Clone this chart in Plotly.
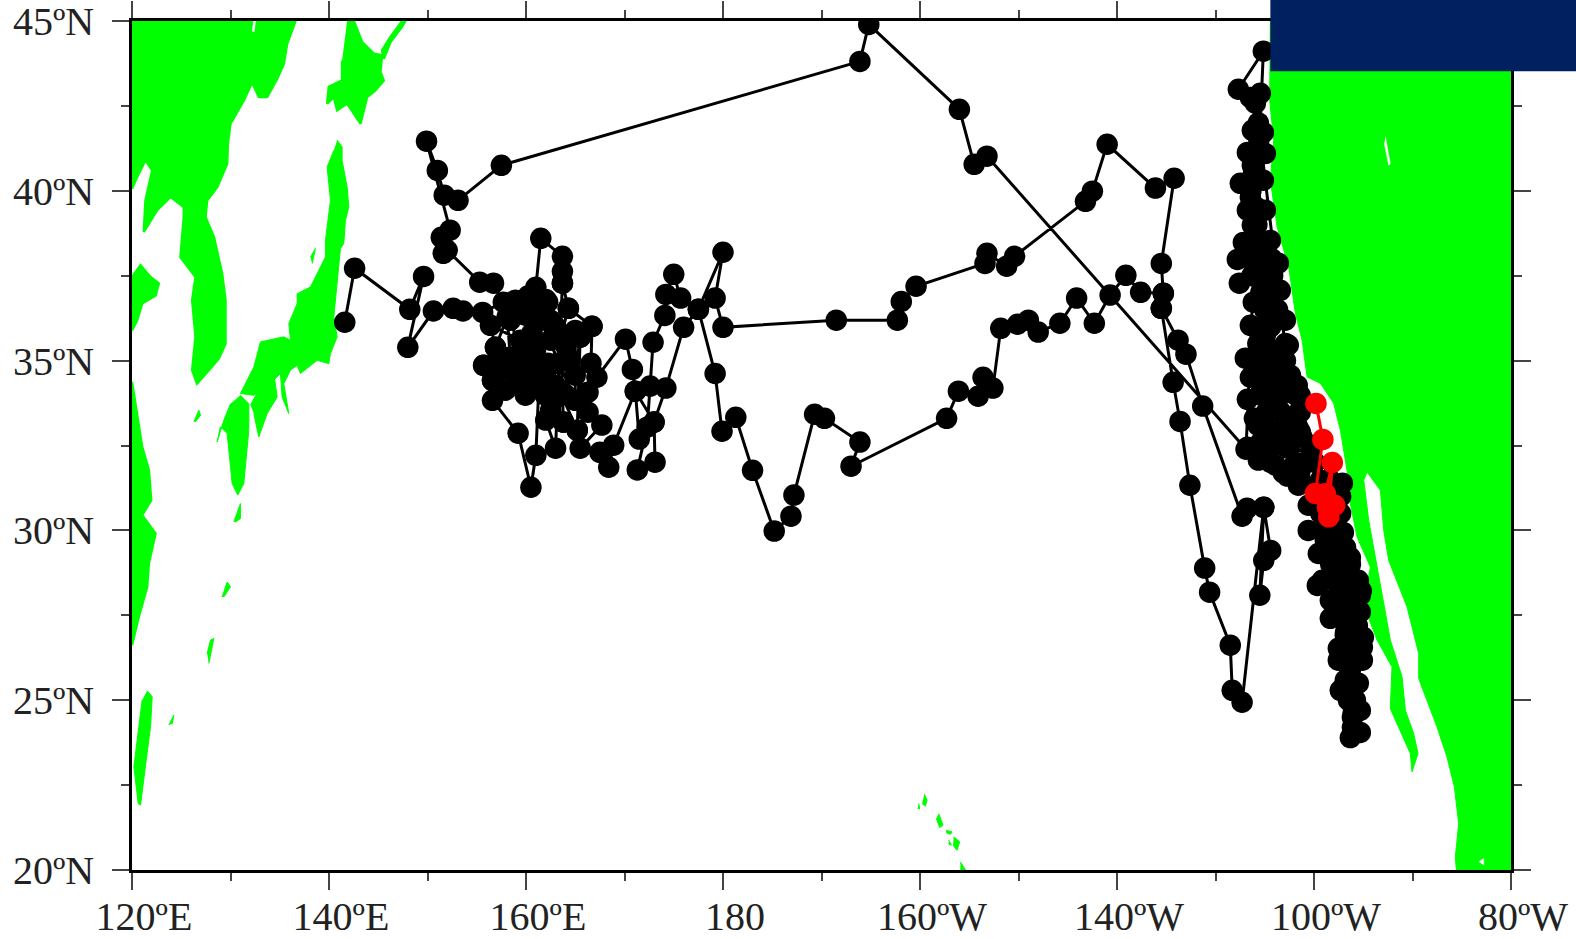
import plotly.graph_objects as go

# Axis labels (the source labels skip 120W: equal spacing on a nominal 120..260 scale)
x_tick_vals = [120, 140, 160, 180, 200, 220, 240, 260]
x_tick_text = ["120ºE", "140ºE", "160ºE", "180", "160ºW", "140ºW", "100ºW", "80ºW"]
y_tick_vals = [20, 25, 30, 35, 40, 45]
y_tick_text = ["20ºN", "25ºN", "30ºN", "35ºN", "40ºN", "45ºN"]

# Land outlines (nominal lon, lat)
asia_lon = [120,132.2,132.03,132.54,132.7,136.6,135.75,135.41,134.74,133.72,132.87,132.2,131.35,130,129.73,129.66,128.65,127.63,127.46,128.31,129.15,129.49,129.49,128.81,127.8,126.6,126.11,126.45,126.11,126.45,124.92,125.26,125.26,123.91,122.55,121.2,121.37,122.05,121.37,120.52,120]
asia_lat = [45,45,44.68,44.63,45,45,44.33,43.74,43.3,42.76,42.76,43.2,42.66,41.98,41.39,40.8,40.11,39.72,39.23,38.64,37.56,36.78,35.5,35.06,34.72,34.32,34.72,35.7,36.78,37.46,38.05,39.23,39.52,39.82,39.43,38.79,39.72,40.6,40.9,40.41,40.06]
hokkaido_lon = [141.84,142.52,143.36,144.55,145.39,145.22,145.56,144.71,143.87,143.2,141.84,140.83,140.49,139.81,139.98,141.33,141.33]
hokkaido_lat = [45,45,44.38,44.04,43.99,43.5,43.25,42.96,42.76,41.98,42.57,42.37,42.76,42.57,43.06,43.25,43.84]
kuril_lon = [147.77,147.26,146.24,145.56,145.39,146.24,147.43]
kuril_lat = [45,44.77,44.38,43.89,44.14,44.53,45]
honshu_lon = [140.83,141.33,141.33,141.84,142.01,141.67,141.5,141.16,140.49,140.83,140.15,139.98,138.8,137.1,136.77,136.09,135.41,135.92,135.24,135.07,133.72,132.37,131.01,132.37,133.04,135.41,136.09,135.92,136.77,136.77,138.12,139.64,139.64,139.98,140.15,139.81,140.49]
honshu_lat = [41.49,41.29,40.9,40.11,39.52,39.13,38.45,38.3,36.29,35.7,35.21,34.91,35.01,34.62,34.86,34.72,34.32,33.44,33.93,34.62,34.23,33.98,34.03,34.81,35.55,35.7,35.6,36.09,36.68,36.97,37.17,38.05,38.54,39.33,39.72,40.7,41.19]
kyushu_lon = [131.01,131.86,131.86,131.52,131.35,130.74,130.17,130.0,129.66,128.98,128.65,129.32,130.0]
kyushu_lat = [33.98,33.73,32.95,31.77,31.38,31.04,31.38,31.87,32.85,33.05,32.61,33.24,33.73]
shikoku_lon = [132.03,133.04,134.4,134.74,133.72,132.87,132.37]
shikoku_lat = [33.69,34.23,34.62,33.93,33.44,32.75,33.44]
shandong_lon = [120,120.86,121.88,122.72,122.39,121.03,120.52,120]
shandong_lat = [37.46,37.81,37.46,37.27,36.92,36.68,36.19,35.89]
china_lon = [120,120.52,121.03,121.71,121.95,121.03,121.88,122.39,121.71,121.54,120.69,120.19,120]
china_lat = [34.37,33.34,32.46,31.77,30.89,30.45,30.1,29.91,29.03,28.34,27.46,26.87,26.62]
taiwan_lon = [121.54,122.05,121.88,121.37,120.86,120.63,120.19,120.69,121.03]
taiwan_lat = [25.28,25.1,24.22,23.14,21.91,21.96,23.04,24.22,25.0]
ryukyu1_lon = [129.15,129.66,130.0,129.32]
ryukyu1_lat = [28.04,28.48,28.34,28.04]
ryukyu2_lon = [127.8,128.31,127.97,127.63]
ryukyu2_lat = [26.08,26.82,26.77,26.37]
sakishima_lon = [123.74,124.25,124.08]
sakishima_lat = [24.27,24.56,24.31]
tanega_lon = [130.34,131.01,131.01,130.51]
tanega_lat = [30.25,30.79,30.35,30.25]
jeju_lon = [126.28,126.79,126.96,126.45]
jeju_lat = [33.2,33.54,33.39,33.2]
sado_lon = [138.29,138.63,138.12]
sado_lat = [37.86,38.3,38.05]
kauai_lon = [200.45,200.72,200.55,200.21]
kauai_lat = [22.23,22.06,21.88,21.96]
niihau_lon = [199.87,199.97,199.77]
niihau_lat = [21.96,21.81,21.81]
oahu_lon = [201.9,202.34,202.0,201.66]
oahu_lat = [21.66,21.32,21.25,21.52]
molokai_lon = [202.65,203.26,203.09,202.65]
molokai_lat = [21.17,21.12,21.05,21.1]
lanai_lon = [202.92,203.19,202.92]
lanai_lat = [20.88,20.73,20.76]
maui_lon = [203.42,204.03,203.76,203.36]
maui_lat = [20.98,20.83,20.58,20.73]
bigisland_lon = [204.1,204.61,204.1]
bigisland_lat = [20.24,20.0,20.0]
america_lon = [235.57,235.57,235.5,235.91,235.57,236.25,237.43,238.11,238.79,239.3,240.65,242.0,242.68,243.35,243.69,244.37,245.72,245.05,246.4,247.92,247.75,249.78,249.95,250.56,250.12,249.28,248.94,247.75,246.4,245.55,245.05,245.38,246.74,247.08,247.58,249.44,250.63,250.63,252.49,253.5,254.25,254.69,254.35,254.45,260,260]
america_lat = [45,43.55,42.67,41.49,40.31,38.94,37.76,36.39,35.6,34.52,34.33,33.74,32.95,31.77,30.79,29.81,28.92,27.8,26.77,25.98,24.75,23.43,22.89,23.43,24.02,24.7,25.69,26.77,28.92,30.3,31.48,31.72,31.18,30.0,29.12,27.75,26.37,25.64,24.21,23.33,22.45,21.37,20.39,20.0,20.0,45]
edge_land = [(asia_lon, asia_lat), (hokkaido_lon, hokkaido_lat), (kuril_lon, kuril_lat),
             (shandong_lon, shandong_lat), (china_lon, china_lat)]
inner_land = [(honshu_lon, honshu_lat), (kyushu_lon, kyushu_lat), (shikoku_lon, shikoku_lat),
              (taiwan_lon, taiwan_lat), (ryukyu1_lon, ryukyu1_lat), (ryukyu2_lon, ryukyu2_lat),
              (sakishima_lon, sakishima_lat), (tanega_lon, tanega_lat), (jeju_lon, jeju_lat),
              (sado_lon, sado_lat), (kauai_lon, kauai_lat), (niihau_lon, niihau_lat),
              (oahu_lon, oahu_lat), (molokai_lon, molokai_lat), (lanai_lon, lanai_lat),
              (maui_lon, maui_lat), (bigisland_lon, bigisland_lat), (america_lon, america_lat)]

# Small lakes inside the land
lake1_lon = [247.25,247.75,247.58,247.14]
lake1_lat = [41.59,40.8,40.75,41.39]
lake2_lon = [256.72,257.23,257.23]
lake2_lat = [20.24,20.34,20.14]
lake_outlines = [(lake1_lon, lake1_lat), (lake2_lon, lake2_lat)]

# Float track, black part: eastbound leg, return leg, upper loop, coastal column
leg1_lon = [141.6,142.6,148.2,149.6,148.0,150.6,152.6,153.6,155.6,157.7,158.9,158.1,156.9,155.7,156.6,158.4,159.7,159.4,161.3,160.6,161.0,161.5,163.7,163.7,163.7,164.3,163.5,163.8,165.2,165.5,166.7,166.6,167.2,170.1,170.8,171.1,173.0,174.2,176.0,177.5,180.0,179.2,180.0]
leg1_lat = [36.13,37.72,36.51,37.48,35.39,36.46,36.54,36.46,36.42,36.72,36.78,36.28,35.39,34.86,34.42,35.1,35.01,34.34,34.22,35.81,37.16,38.6,38.07,37.63,37.28,36.54,35.66,33.19,32.95,35.69,36.01,34.92,34.51,35.63,34.74,34.1,33.19,34.19,35.98,36.51,38.19,36.84,35.98]
leg2_lon = [191.5,197.7,198.1,199.6,206.6,206.8,208.8,209.6,216.8,217.5,219.0,223.9,225.8,224.5,224.7,224.5,226.2,227.0,228.7,232.7,233.2,234.9,234.5,234.9,235.6,234.9,232.7,231.7,231.5,229.4,228.9,227.4,226.4,225.7,224.5,224.7]
leg2_lat = [36.19,36.19,36.74,37.19,37.86,38.16,37.78,38.07,39.69,39.99,41.37,40.08,40.37,37.86,36.98,36.54,35.6,35.19,33.66,30.42,30.65,30.68,28.09,29.12,29.41,30.68,24.94,25.29,26.62,28.18,28.89,31.33,33.21,34.36,36.54,36.98]
leg3_lon = [222.4,220.9,219.3,217.7,215.9,214.2,212.0,211.0,209.9,208.2,207.4,206.4,205.9,203.9,202.7,193.0,193.9,190.3,189.3,187.2,186.9,185.2,183.0,181.3,179.9,179.2,177.5]
leg3_lat = [37.01,37.51,36.93,36.1,36.84,36.1,35.84,36.19,36.07,35.95,34.19,34.51,33.95,34.1,33.3,31.89,32.6,33.3,33.42,31.04,30.42,29.98,31.77,33.33,32.92,34.62,36.51]
leg4_lon = [175.7,175.0,174.2,174.1,172.9,172.6,172.3,171.3,173.1,173.0,171.5,171.1,168.9,168.4,167.5,165.5,167.7,166.3,166.3,165.0,165.5,166.7,164.3,163.7,163.0,162.0,162.5,163.8,165.2,162.2,163.2,163.5,162.2,160.8,159.4,158.1,158.4,159.7,159.4,161.3,161.0,160.5,159.2,156.6,156.6,155.7,157.4,156.9]
leg4_lat = [36.84,37.54,36.95,36.33,35.54,34.25,33.04,31.78,32.01,33.19,32.69,34.1,32.51,31.86,32.3,32.42,33.1,33.48,34.07,34.57,35.69,36.01,36.54,37.28,32.42,33.25,33.54,33.19,32.95,34.92,34.92,35.66,36.72,36.48,36.57,36.28,35.1,35.01,34.34,34.22,32.21,31.27,32.86,33.83,34.42,34.86,35.1,35.39]
cluster_lon = [156.39,159.44,160.96,162.48,157.41,158.93,161.97,157.91,159.94,161.97,162.99,164.0,165.0,165.0,161.48,162.48,159.94,158.41,160.5,163.0,164.0,164.3,163.0,160.2,162.0,161.0,160.2]
cluster_lat = [36.04,35.6,35.31,35.6,34.72,34.57,34.57,34.13,33.98,33.98,34.27,35.45,35.89,33.83,36.19,36.19,36.34,36.19,34.3,33.9,34.0,35.0,36.0,36.9,36.8,34.9,34.9]
leg4b_lon = [156.7,155.3]
leg4b_lat = [37.28,37.31]
leg5_lon = [152.0,151.6,151.4,152.3,149.9,151.0,151.7,153.1,157.5,193.9,194.8,204.0,205.5,206.8,233.1]
leg5_lat = [38.25,38.16,38.63,38.84,41.46,40.6,39.87,39.72,40.75,43.81,44.9,42.4,40.78,41.02,32.39]
column_north_lon = [234.86,232.32,233.54,234.55,234.05,233.74,234.86,233.24,235.06,233.74,232.52,234.86,233.54,233.24,235.06,233.74,232.83,235.57,234.05,232.22,234.35,236.38,232.42,234.86,236.58,233.84,235.77,233.54,237.09,235.06,233.03,237.39,235.06,233.54,237.6,235.57,233.24,238.3,236.08,238.6,233.95,237.09,238.6,235.57,233.24,237.6,234.35,236.08,238.6]
column_north_lat = [44.11,42.99,42.75,42.87,42.58,41.78,41.72,41.13,41.10,40.75,40.22,40.31,39.81,39.43,39.43,38.99,38.48,38.54,38.25,37.98,37.72,37.87,37.28,37.22,37.07,36.72,36.63,36.04,36.19,35.75,35.07,35.46,35.01,34.51,34.57,34.27,33.86,34.27,33.83,33.98,33.3,33.24,33.48,32.8,32.45,32.51,32.07,31.92,31.77]
north_fill_lon = [234.35,234.4,234.2,233.85,233.6,234.2,234.2,234.2,235.0,233.5,235.7,233.7,235.8,234.6,235.8,235.0,236.3,234.8,235.6,234.3,237.1,234.3,237.1,234.8,237.5,234.5,238.1,235.2,238.5,235.2,237.8,234.8,236.8,239.8,235.6,238.1,240.1,238.6,241.6,236.08,236.08,237.0,236.6,235.3,236.6,236.8,236.0,234.3,234.6,238.6,239.0,237.3]
north_fill_lat = [42,41.5,41,40.5,40,39.5,39,38.5,38.5,38,38,37.5,37.5,37,37,36.5,36.5,36,36,35.5,35.5,35,35,34.5,34.5,34,34,33.5,33.5,33,33,32.5,32.5,32.5,32,32,32,31.5,31.5,35.3,34.8,34.8,34.2,34.6,33.5,33.0,32.5,33.1,32.6,32.9,32.0,31.6]
column_south_lon = [236.89,238.41,240.65,242.88,239.42,242.16,239.42,242.98,241.15,240.44,243.69,242.16,240.84,244.5,240.34,242.67,244.7,241.66,243.69,241.66,244.4,243.18,245.01,242.47,244.91,243.69,242.47,244.91,243.69,243.18,244.5,242.67,243.89,243.99,244.7]
column_south_lat = [31.69,31.33,31.48,31.39,30.74,30.59,30.0,29.94,29.71,29.32,29.2,28.97,28.53,28.53,28.38,28.23,28.09,27.94,27.64,27.41,27.2,26.91,26.85,26.53,26.56,26.32,26.18,26.18,25.88,25.59,25.5,25.29,25.14,24.64,24.7]
south_fill_lon = [240.7,242.7,240.7,242.7,241.2,242.2,241.7,243.2,241.7,243.7,242.2,243.7,244.8,242.7,243.9,244.7,242.7,243.7,243.2,244.2,243.7,243.5,243.7,243.5,244.2,243.9,243.9,244.7,243.69]
south_fill_lat = [31,31,30.5,30.5,30,30,29.5,29.5,29,29,28.5,28.5,28.22,28,28,27.6,27.5,27.5,27,27,26.5,26,25.5,25,25,24.5,24.2,24.05,23.9]
black_lon = leg1_lon + leg2_lon + leg3_lon + leg4_lon + cluster_lon + leg4b_lon + leg5_lon + column_north_lon + north_fill_lon + column_south_lon + south_fill_lon
black_lat = leg1_lat + leg2_lat + leg3_lat + leg4_lat + cluster_lat + leg4b_lat + leg5_lat + column_north_lat + north_fill_lat + column_south_lat + south_fill_lat

# Float track, red part
red_lon = [240.2,240.9,240.14,241.15,241.86,241.5,242.1,241.36]
red_lat = [33.74,32.68,31.09,31.08,32.0,30.4,30.74,30.68]

GREEN = "#00ff00"
fig = go.Figure()
for lon, lat in edge_land:
    fig.add_trace(go.Scatter(x=lon, y=lat, mode="lines", fill="toself", fillcolor=GREEN, cliponaxis=False,
                             line=dict(color=GREEN, width=2.5), hoverinfo="skip"))
for lon, lat in inner_land:
    fig.add_trace(go.Scatter(x=lon, y=lat, mode="lines", fill="toself", fillcolor=GREEN, cliponaxis=False,
                             line=dict(color=GREEN, width=1), hoverinfo="skip"))
for lon, lat in lake_outlines:
    fig.add_trace(go.Scatter(x=lon, y=lat, mode="lines", fill="toself", fillcolor="white",
                             line=dict(color="white", width=0.5), hoverinfo="skip"))
fig.add_trace(go.Scatter(x=black_lon, y=black_lat, mode="lines+markers",
                         line=dict(color="black", width=3),
                         marker=dict(color="black", size=21.5), hoverinfo="skip"))
fig.add_trace(go.Scatter(x=red_lon, y=red_lat, mode="lines+markers",
                         line=dict(color="#ff0000", width=3),
                         marker=dict(color="#ff0000", size=21.5), hoverinfo="skip"))

LABEL_FONT = dict(family="Liberation Serif", size=40, color="#222222")
fig.update_xaxes(range=[120, 260], tickmode="array", tickvals=x_tick_vals, ticktext=x_tick_text,
                 ticks="outside", ticklen=17, tickwidth=1.5, tickcolor="#444444",
                 minor=dict(ticks="outside", ticklen=8, tickwidth=1.5, tickcolor="#444444",
                            tickmode="array", tickvals=[130, 150, 170, 190, 210, 230, 250]),
                 showline=True, linecolor="black", linewidth=2.5, mirror="ticks",
                 showgrid=False, zeroline=False, tickfont=LABEL_FONT, layer="below traces",
                 ticklabelstandoff=-8, ticklabelshift=12, ticklabeloverflow="allow", automargin=False)
fig.update_yaxes(range=[20, 45], tickmode="array", tickvals=y_tick_vals, ticktext=y_tick_text,
                 ticks="outside", ticklen=17, tickwidth=1.5, tickcolor="#444444",
                 minor=dict(ticks="outside", ticklen=8, tickwidth=1.5, tickcolor="#444444",
                            tickmode="array", tickvals=[22.5, 27.5, 32.5, 37.5, 42.5]),
                 showline=True, linecolor="black", linewidth=2.5, mirror="ticks",
                 showgrid=False, zeroline=False, tickfont=LABEL_FONT, layer="below traces",
                 ticklabelstandoff=10, ticklabeloverflow="allow", automargin=False)
fig.update_layout(width=1576, height=939, showlegend=False,
                  paper_bgcolor="white", plot_bgcolor="white",
                  margin=dict(l=131.5, r=65.3, t=20.7, b=69, pad=0))
# Navy block over the top right corner
fig.add_shape(type="rect", xref="paper", yref="paper", x0=0.8255, x1=1.05, y0=0.9408, y1=1.03,
              fillcolor="#012060", line=dict(width=0), layer="above")

fig.write_html("out.html", config=dict(displayModeBar=False),
               post_script="document.body.style.margin='0';document.body.style.overflow='hidden';")
